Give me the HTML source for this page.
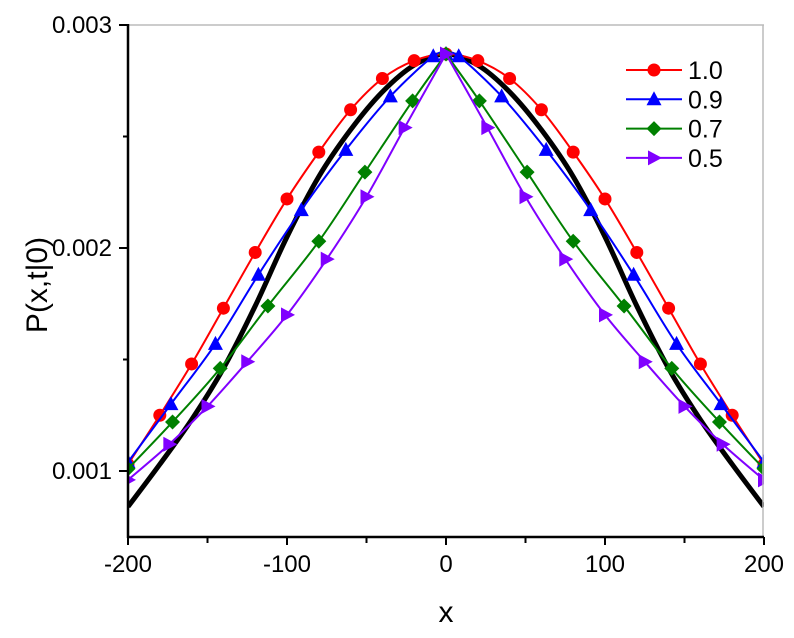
<!DOCTYPE html>
<html><head><meta charset="utf-8"><style>
body{margin:0;background:#fff}
svg text{font-family:"Liberation Sans",Arial,sans-serif;fill:#000}
</style></head><body>
<svg id="chart" width="794" height="633" xmlns="http://www.w3.org/2000/svg">
<defs><clipPath id="clip"><rect x="128" y="25" width="636" height="512"/></clipPath></defs>
<g id="plot"></g>
<g id="axes"></g>
<g id="legend"></g>
</svg>
<script>
const xTicks=[-200,-100,0,100,200];
const yTicks=[0.001,0.002,0.003];
const yTickLabels=["0.001","0.002","0.003"];
const xRed=[-200,-180,-160,-140,-120,-100,-80,-60,-40,-20,0,20,40,60,80,100,120,140,160,180,200];
const yRed=[0.00103,0.00125,0.00148,0.00173,0.00198,0.00222,0.00243,0.00262,0.00276,0.00284,0.00287,0.00284,0.00276,0.00262,0.00243,0.00222,0.00198,0.00173,0.00148,0.00125,0.00103];
const xBlue=[-200,-173,-145,-118,-91,-63,-35,-8,0,8,35,63,91,118,145,173,200];
const yBlue=[0.00104,0.00130,0.00157,0.00188,0.00217,0.00244,0.00268,0.00286,0.00287,0.00286,0.00268,0.00244,0.00217,0.00188,0.00157,0.00130,0.00104];
const xGreen=[-200,-172,-142,-112,-80,-51,-21,0,21,51,80,112,142,172,200];
const yGreen=[0.00101,0.00122,0.00146,0.00174,0.00203,0.00234,0.00266,0.00287,0.00266,0.00234,0.00203,0.00174,0.00146,0.00122,0.00101];
const xPurple=[-200,-174,-150,-125,-100,-75,-50,-26,0,26,50,75,100,125,150,174,200];
const yPurple=[0.00096,0.00112,0.00129,0.00149,0.00170,0.00195,0.00223,0.00254,0.00287,0.00254,0.00223,0.00195,0.00170,0.00149,0.00129,0.00112,0.00096];
const xBlack=[-200,-180,-160,-140,-120,-100,-80,-60,-40,-20,0,20,40,60,80,100,120,140,160,180,200];
const yBlack=[0.00084,0.00103,0.00123,0.00146,0.00174,0.00205,0.00232,0.00253,0.00270,0.00282,0.00287,0.00282,0.00270,0.00253,0.00232,0.00205,0.00174,0.00146,0.00123,0.00103,0.00084];
const legendLabels=["1.0","0.9","0.7","0.5"];

const X0=128,X1=764,Y0=537,Y1=25;
const sx=v=>X0+(v+200)/400*(X1-X0);
const sy=v=>248-(v-0.002)*223000;
const NS="http://www.w3.org/2000/svg";
function mk(tag,attrs,parent){const e=document.createElementNS(NS,tag);for(const k in attrs)e.setAttribute(k,attrs[k]);parent.appendChild(e);return e;}
function smooth(pts){let d=`M${pts[0][0]},${pts[0][1]}`;for(let i=0;i<pts.length-1;i++){const p0=pts[Math.max(0,i-1)],p1=pts[i],p2=pts[i+1],p3=pts[Math.min(pts.length-1,i+2)];const c1=[p1[0]+(p2[0]-p0[0])/6,p1[1]+(p2[1]-p0[1])/6],c2=[p2[0]-(p3[0]-p1[0])/6,p2[1]-(p3[1]-p1[1])/6];d+=`C${c1[0]},${c1[1]} ${c2[0]},${c2[1]} ${p2[0]},${p2[1]}`;}return d;}
function cuspPath(xs,ys){const pk=xs.indexOf(0);const pts=xs.map((x,i)=>[sx(x),sy(ys[i])]);return smooth(pts.slice(0,pk+1))+smooth(pts.slice(pk));}
function marker(type,x,y,color,parent){
 let e;
 if(type==="circle")e=mk("circle",{cx:x,cy:y,r:6.5,fill:color},parent);
 else if(type==="up")e=mk("polygon",{points:`${x},${y-8} ${x-7.5},${y+6} ${x+7.5},${y+6}`,fill:color},parent);
 else if(type==="diamond")e=mk("polygon",{points:`${x},${y-7.5} ${x+7.5},${y} ${x},${y+7.5} ${x-7.5},${y}`,fill:color},parent);
 else e=mk("polygon",{points:`${x+8},${y} ${x-6},${y-7.5} ${x-6},${y+7.5}`,fill:color},parent);
 return e;
}
const plot=document.getElementById('plot');
const clipG=mk("g",{"clip-path":"url(#clip)"},plot);
const series=[
 {xs:xRed,ys:yRed,c:"#ff0000",m:"circle",name:"series-1-0",cusp:false},
 {xs:xBlue,ys:yBlue,c:"#0000ff",m:"up",name:"series-0-9",cusp:true},
 {xs:xGreen,ys:yGreen,c:"#008000",m:"diamond",name:"series-0-7",cusp:true},
 {xs:xPurple,ys:yPurple,c:"#8000ff",m:"right",name:"series-0-5",cusp:true}];
const bl=mk("path",{d:smooth(xBlack.map((x,i)=>[sx(x),sy(yBlack[i])])),fill:"none",stroke:"#000","stroke-width":5},clipG);


series.forEach(s=>{
 const g=mk("g",{},clipG);
 
 
 const d=s.cusp?cuspPath(s.xs,s.ys):smooth(s.xs.map((x,i)=>[sx(x),sy(s.ys[i])]));
 mk("path",{d:d,fill:"none",stroke:s.c,"stroke-width":2},g);
 s.xs.forEach((x,i)=>{const m=marker(s.m,sx(x),sy(s.ys[i]),s.c,g);
  
  });
});
const ax=document.getElementById('axes');
mk("line",{x1:X0,y1:Y1,x2:X1,y2:Y1,stroke:"#bbb","stroke-width":1.5},ax);
mk("line",{x1:X1-1,y1:Y1,x2:X1-1,y2:Y0,stroke:"#bbb","stroke-width":1.5},ax);
mk("line",{x1:X0,y1:Y1-1,x2:X0,y2:Y0+1,stroke:"#000","stroke-width":2.5},ax);
mk("line",{x1:X0-1,y1:Y0,x2:X1,y2:Y0,stroke:"#000","stroke-width":2.5},ax);
for(let v=-200;v<=200;v+=50){const big=v%100===0;mk("line",{x1:sx(v),y1:Y0,x2:sx(v),y2:Y0+(big?8:6),stroke:"#000","stroke-width":2},ax);}
xTicks.forEach(v=>{const t=mk("text",{x:sx(v),y:Y0+35,"text-anchor":"middle","font-size":24},ax);t.textContent=v;
 
 });
[0.001,0.0015,0.002,0.0025,0.003].forEach(v=>{const big=Math.abs(v*1000-Math.round(v*1000))<1e-9;mk("line",{x1:X0,y1:sy(v),x2:X0-(big?9:5),y2:sy(v),stroke:"#000","stroke-width":2},ax);});
yTicks.forEach((v,i)=>{const t=mk("text",{x:X0-16,y:sy(v)+8,"text-anchor":"end","font-size":24},ax);t.textContent=yTickLabels[i];
 
 });
const xt=mk("text",{x:446,y:622,"text-anchor":"middle","font-size":30},ax);xt.textContent="x";


const yt=mk("text",{x:0,y:0,"text-anchor":"middle","font-size":30,transform:"translate(47,285) rotate(-90)"},ax);yt.textContent="P(x,t|0)";


const lg=document.getElementById('legend');
series.forEach((s,i)=>{const y=70+i*29.3;const g=mk("g",{},lg);
 
 
 mk("line",{x1:626,y1:y,x2:682,y2:y,stroke:s.c,"stroke-width":2},g);
 marker(s.m,654,y,s.c,g);
 const t=mk("text",{x:688,y:y+9,"font-size":25},g);t.textContent=legendLabels[i];});
</script>
</body></html>
